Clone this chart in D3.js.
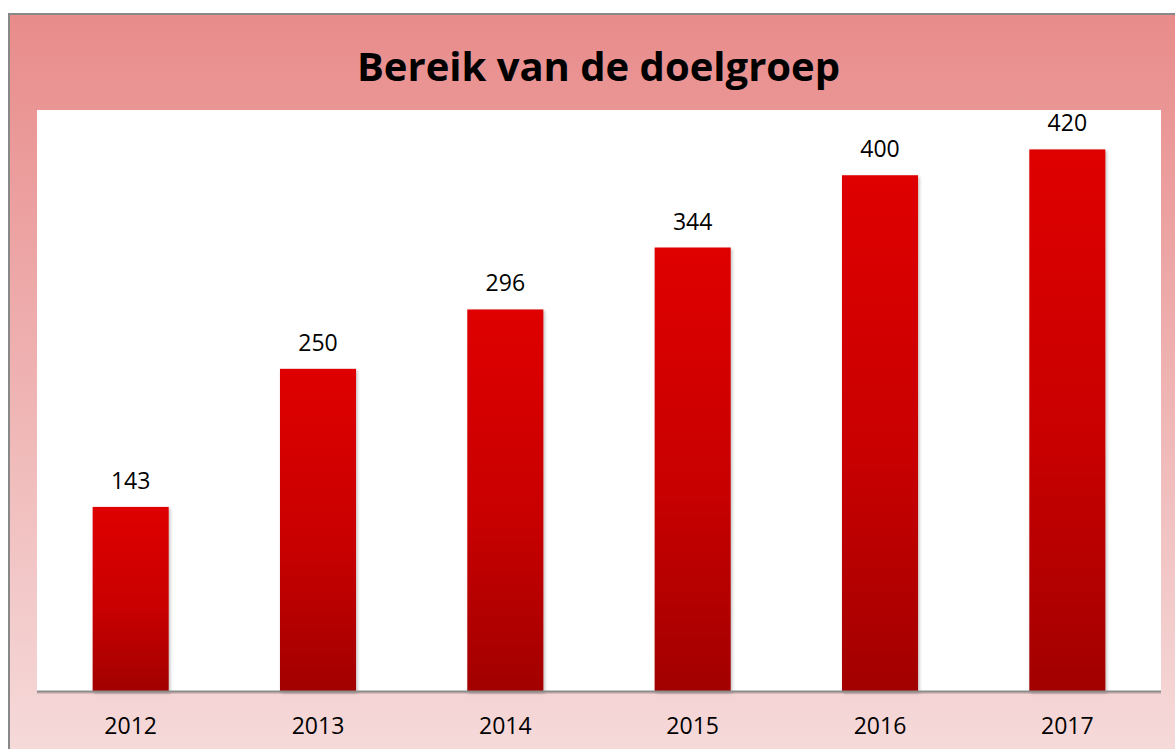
<!DOCTYPE html>
<html>
<head>
<meta charset="utf-8">
<script src="https://cdn.jsdelivr.net/npm/d3@7"></script>
<style>
  html, body { margin: 0; padding: 0; background: #fff; }
  svg { display: block; }
  text { font-family: "Open Sans", "DejaVu Sans", sans-serif; fill: #000; }
</style>
</head>
<body>
<div id="chart"></div>
<script>
// data
const years = ["2012", "2013", "2014", "2015", "2016", "2017"];
const reach = [143, 250, 296, 344, 400, 420];
const title = "Bereik van de doelgroep";

const width = 1175;
const height = 749;
const plot = { left: 37, right: 1161, top: 110, bottom: 691.5 };

const svg = d3.select("#chart")
  .append("svg")
  .attr("width", width)
  .attr("height", height);

const defs = svg.append("defs");

// chart background gradient (salmon to pale pink)
const bg = defs.append("linearGradient")
  .attr("id", "bg").attr("x1", 0).attr("y1", 0).attr("x2", 0).attr("y2", 1);
bg.append("stop").attr("offset", "0%").attr("stop-color", "#e88c8b");
bg.append("stop").attr("offset", "100%").attr("stop-color", "#f6dcdc");

// bar gradient
const barGrad = defs.append("linearGradient")
  .attr("id", "barGrad").attr("x1", 0).attr("y1", 0).attr("x2", 0).attr("y2", 1);
barGrad.append("stop").attr("offset", "0%").attr("stop-color", "#df0000");
barGrad.append("stop").attr("offset", "55%").attr("stop-color", "#c80000");
barGrad.append("stop").attr("offset", "100%").attr("stop-color", "#a20000");

const shadow = defs.append("filter").attr("id", "shadow")
  .attr("x", "-10%").attr("y", "-10%").attr("width", "130%").attr("height", "130%");
shadow.append("feDropShadow")
  .attr("dx", 1.5).attr("dy", 1.5).attr("stdDeviation", 1.5)
  .attr("flood-color", "#000").attr("flood-opacity", 0.25);

// outer frame
svg.append("rect")
  .attr("x", 9).attr("y", 14)
  .attr("width", 1180).attr("height", 760)
  .attr("fill", "url(#bg)")
  .attr("stroke", "#888").attr("stroke-width", 2);

// plot area
svg.append("rect")
  .attr("x", plot.left).attr("y", plot.top)
  .attr("width", plot.right - plot.left)
  .attr("height", plot.bottom - plot.top)
  .attr("fill", "#fff");

// scales
const x = d3.scaleBand()
  .domain(years)
  .range([plot.left, plot.right])
  .paddingInner(0.594)
  .paddingOuter(0.297);

const y = d3.scaleLinear()
  .domain([0, 450])
  .range([plot.bottom, plot.top + 0.7]);

// bars
svg.selectAll(".bar")
  .data(reach)
  .enter()
  .append("rect")
  .attr("class", "bar")
  .attr("x", (d, i) => x(years[i]))
  .attr("y", d => y(d))
  .attr("width", x.bandwidth())
  .attr("height", d => y(0) - y(d))
  .attr("fill", "url(#barGrad)")
  .attr("filter", "url(#shadow)");

// value labels
svg.selectAll(".label")
  .data(reach)
  .enter()
  .append("text")
  .attr("class", "label")
  .attr("x", (d, i) => x(years[i]) + x.bandwidth() / 2)
  .attr("y", d => y(d) - 18)
  .attr("text-anchor", "middle")
  .attr("font-size", 23)
  .text(d => d);

// x axis
const xAxis = svg.append("g")
  .attr("class", "x-axis")
  .attr("transform", `translate(0, ${plot.bottom})`)
  .call(d3.axisBottom(x).tickSize(0).tickPadding(26));
xAxis.select(".domain").remove();
xAxis.append("line")
  .attr("x1", plot.left).attr("x2", plot.right)
  .attr("y1", 1.5).attr("y2", 1.5)
  .attr("stroke", "#000").attr("stroke-opacity", 0.12).attr("stroke-width", 2);
xAxis.append("line")
  .attr("x1", plot.left).attr("x2", plot.right)
  .attr("y1", 0).attr("y2", 0)
  .attr("stroke", "#8c8c8c").attr("stroke-width", 2);
xAxis.selectAll("text")
  .attr("font-size", 23)
  .attr("font-family", "'Open Sans', sans-serif")
  .attr("fill", "#000");

// title
svg.append("text")
  .attr("x", 598.5)
  .attr("y", 81)
  .attr("text-anchor", "middle")
  .attr("font-size", 40)
  .attr("font-weight", "bold")
  .text(title);
</script>
</body>
</html>
